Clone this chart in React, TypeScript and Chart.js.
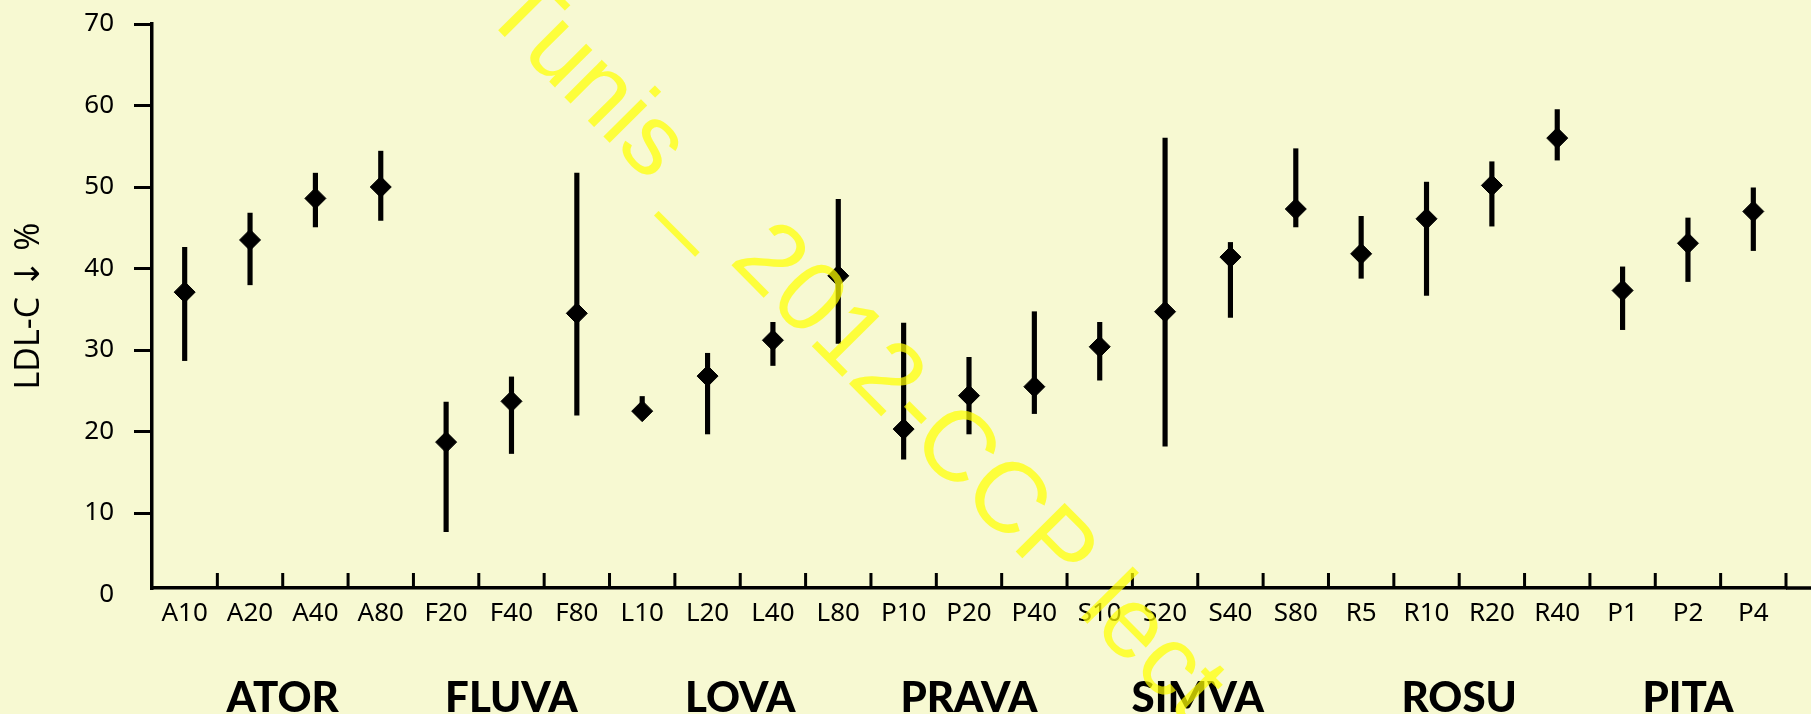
import { useEffect, useRef } from 'react';
import { Chart, registerables } from 'chart.js';

Chart.register(...registerables);

const categories = ['A10', 'A20', 'A40', 'A80', 'F20', 'F40', 'F80', 'L10', 'L20', 'L40', 'L80', 'P10', 'P20', 'P40', 'S10', 'S20', 'S40', 'S80', 'R5', 'R10', 'R20', 'R40', 'P1', 'P2', 'P4'];
const means = [37.1, 43.5, 48.6, 50.0, 18.7, 23.7, 34.5, 22.5, 26.8, 31.2, 39.1, 20.3, 24.4, 25.5, 30.4, 34.7, 41.4, 47.3, 41.8, 46.1, 50.2, 56.0, 37.3, 43.1, 47.0];
const lows = [28.7, 38.0, 45.1, 45.9, 7.7, 17.3, 22.0, 21.8, 19.7, 28.1, 30.8, 16.6, 19.7, 22.2, 26.3, 18.2, 34.0, 45.1, 38.8, 36.7, 45.2, 53.3, 32.5, 38.4, 42.2];
const highs = [42.6, 46.8, 51.7, 54.4, 23.6, 26.7, 51.7, 24.3, 29.6, 33.4, 48.5, 33.3, 29.1, 34.7, 33.4, 56.0, 43.2, 54.7, 46.4, 50.6, 53.1, 59.5, 40.2, 46.2, 49.9];
const yTicks = [0, 10, 20, 30, 40, 50, 60, 70];
const groupNames = ['ATOR', 'FLUVA', 'LOVA', 'PRAVA', 'SIMVA', 'ROSU', 'PITA'];
const groupFirst = [0, 4, 7, 11, 14, 18, 22];
const groupLast = [3, 6, 10, 13, 17, 21, 24];
const yTitle = 'LDL-C ↓ %';
const watermark = 'Tunis _ 2012-CCP lect';

const decorPlugin = {
  id: 'decor',
  afterDraw(chart: any) {
    const { ctx, chartArea, scales } = chart;
    const x = scales.x;
    const step = x.getPixelForValue(1) - x.getPixelForValue(0);
    ctx.save();
    ctx.strokeStyle = '#000';
    ctx.lineWidth = 3;
    ctx.beginPath();
    for (let i = 1; i <= categories.length; i++) {
      const px = x.getPixelForValue(i - 1) + step / 2;
      ctx.moveTo(px, chartArea.bottom);
      ctx.lineTo(px, chartArea.bottom - 15);
    }
    ctx.stroke();
    ctx.lineWidth = 3.5;
    ctx.beginPath();
    ctx.moveTo(chartArea.right, chartArea.bottom);
    ctx.lineTo(chart.width, chartArea.bottom);
    ctx.stroke();

    ctx.fillStyle = '#000';
    ctx.font = '900 42px Lato';
    ctx.textAlign = 'center';
    ctx.textBaseline = 'alphabetic';
    groupNames.forEach((g, i) => {
      const cx = (x.getPixelForValue(groupFirst[i]) + x.getPixelForValue(groupLast[i])) / 2;
      ctx.fillText(g, cx, 712);
    });

    ctx.translate(480, 12);
    ctx.rotate((45.2 * Math.PI) / 180);
    ctx.font = '100px "Liberation Sans"';
    ctx.fillStyle = 'rgba(255,255,0,0.72)';
    ctx.textAlign = 'left';
    ctx.fillText(watermark, 0, 0);
    ctx.restore();
  },
};

export default function App() {
  const canvasRef = useRef<HTMLCanvasElement | null>(null);

  useEffect(() => {
    if (!canvasRef.current) return;
    const chart = new Chart(canvasRef.current, {
      type: 'bar',
      data: {
        labels: categories,
        datasets: [
          {
            type: 'line',
            data: means,
            showLine: false,
            pointStyle: 'rectRot',
            pointRadius: 10.5,
            pointBorderWidth: 1,
            backgroundColor: '#000',
            borderColor: '#000',
            order: 0,
          } as any,
          {
            type: 'bar',
            data: lows.map((l, i) => [l, highs[i]]),
            backgroundColor: '#000',
            borderWidth: 0,
            barThickness: 4.5,
            order: 1,
          } as any,
        ],
      },
      options: {
        animation: false,
        responsive: true,
        maintainAspectRatio: false,
        layout: { padding: { top: 24, right: 25, left: 0, bottom: 0 } },
        plugins: { legend: { display: false }, tooltip: { enabled: false } },
        scales: {
          x: {
            type: 'category',
            offset: true,
            grid: { display: false },
            border: { display: true, color: '#000', width: 3.5 },
            ticks: {
              color: '#000',
              font: { family: '"Noto Sans"', size: 26 },
              padding: 2,
              maxRotation: 0,
              autoSkip: false,
            },
            afterFit: (s: any) => {
              s.height = 126;
            },
          },
          y: {
            min: 0.8,
            max: 70,
            afterBuildTicks: (s: any) => {
              s.ticks = yTicks.map((v) => ({ value: v }));
            },
            grid: {
              drawOnChartArea: false,
              drawTicks: true,
              tickLength: 18,
              lineWidth: 3,
              color: (c: any) => (c.tick && c.tick.value === 0 ? 'rgba(0,0,0,0)' : '#000'),
            },
            border: { display: true, color: '#000', width: 3.5 },
            ticks: {
              color: '#000',
              padding: 20,
              font: { family: '"Noto Sans"', size: 26 },
            },
            title: {
              display: true,
              text: yTitle,
              color: '#000',
              font: { family: '"Open Sans", "DejaVu Sans"', size: 34 },
              padding: { top: 9, bottom: 0 },
            },
            afterFit: (s: any) => {
              s.width = 152;
              s.paddingTop = 0;
              s.paddingBottom = 0;
            },
          },
        },
      },
      plugins: [decorPlugin],
    });
    return () => chart.destroy();
  }, []);

  return (
    <div
      style={{
        position: 'fixed',
        left: 0,
        top: 0,
        width: 1811,
        height: 714,
        background: '#F7F9D2',
      }}
    >
      <canvas ref={canvasRef} />
    </div>
  );
}
